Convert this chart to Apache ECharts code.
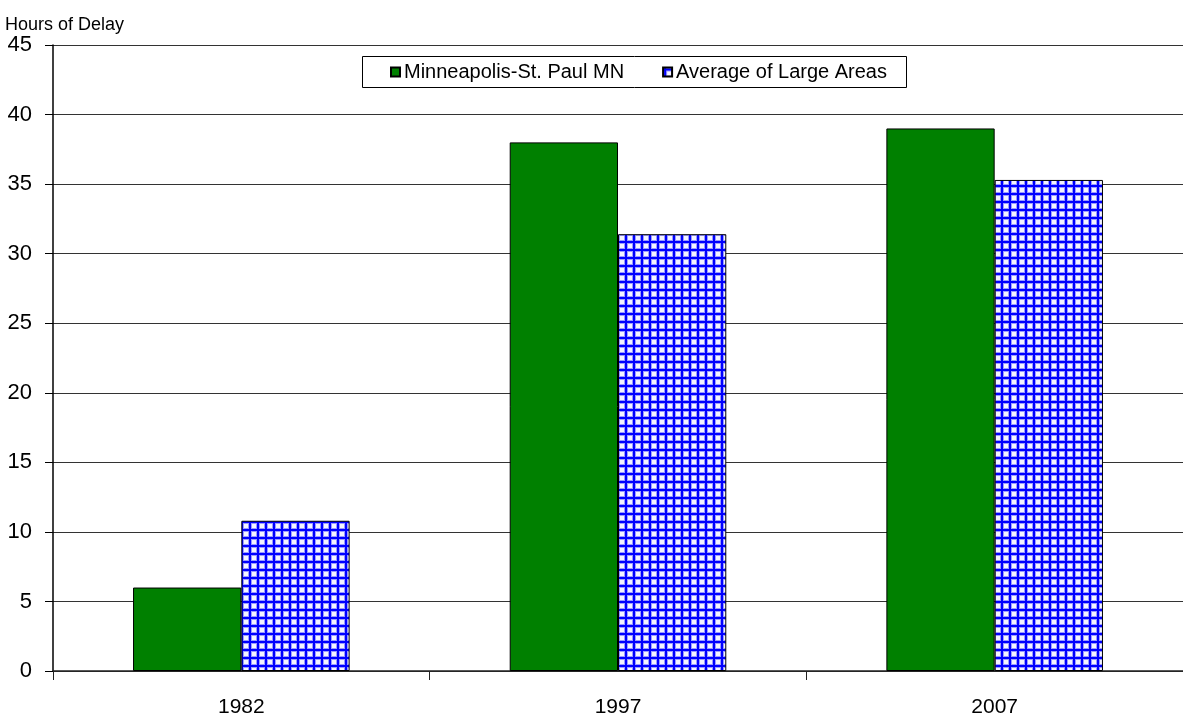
<!DOCTYPE html>
<html><head><meta charset="utf-8">
<script src="https://cdn.jsdelivr.net/npm/echarts@6/dist/echarts.min.js"></script>
<style>html,body{margin:0;padding:0;background:#fff}#c{width:1183px;height:727px}</style>
</head><body><div id="c"></div>
<script>
const categories = ['1982', '1997', '2007'];
const minneapolis = [6, 38, 39];
const largeAreas = [10.8, 31.4, 35.3];
const seriesNames = ['Minneapolis-St. Paul MN', 'Average of Large Areas'];
const yTitle = 'Hours of Delay';

function makePattern(cell) {
  const c = document.createElement('canvas');
  c.width = cell; c.height = cell;
  const g = c.getContext('2d');
  g.fillStyle = '#f4f4ff'; g.fillRect(0, 0, cell, cell);
  g.fillStyle = '#9a9aff'; g.fillRect(0, 0, cell, 4); g.fillRect(0, 0, 4, cell);
  g.fillStyle = '#0000ff'; g.fillRect(0, 1, cell, 2); g.fillRect(1, 0, 2, cell);
  return c;
}
const pat = makePattern(8);

const chart = echarts.init(document.getElementById('c'));
chart.setOption({
  animation: false,
  textStyle: { fontFamily: 'Liberation Sans, Arial, sans-serif' },
  grid: { left: 53, right: 0, top: 45, bottom: 56 },
  graphic: [{
    type: 'rect', left: 362, top: 56,
    shape: { width: 544, height: 31 },
    style: { fill: '#fff', stroke: '#000', lineWidth: 1 },
    z: 50
  }],
  legend: {
    top: 62, left: 390, z: 100,
    icon: 'rect', itemWidth: 9, itemHeight: 9, itemGap: 38,
    padding: 0,
    textStyle: { fontSize: 20, color: '#000', fontFamily: 'Liberation Sans, Arial, sans-serif', padding: [0, 0, 0, -1] },
    data: seriesNames
  },
  xAxis: {
    type: 'category', data: categories,
    axisLine: { lineStyle: { color: '#222', width: 1.5 } },
    axisTick: { show: true, length: 9, lineStyle: { color: '#222' } },
    axisLabel: { fontSize: 21, color: '#000', margin: 26 }
  },
  yAxis: {
    type: 'value', min: 0, max: 45, interval: 5,
    name: yTitle, nameLocation: 'end', nameGap: 9,
    nameTextStyle: { fontSize: 18, color: '#000', align: 'left', padding: [0, 0, 0, -48] },
    axisLine: { show: true, lineStyle: { color: '#000', width: 1.5 } },
    axisTick: { show: true, length: 8, lineStyle: { color: '#000' } },
    axisLabel: { fontSize: 22, color: '#000', margin: 21 },
    splitLine: { lineStyle: { color: '#333', width: 1.2 } }
  },
  series: [
    {
      name: seriesNames[0], type: 'bar', data: minneapolis,
      barGap: '0%', barCategoryGap: '42.5%',
      itemStyle: { color: '#008000', borderColor: '#000', borderWidth: 1 }
    },
    {
      name: seriesNames[1], type: 'bar', data: largeAreas,
      barGap: '0%', barCategoryGap: '42.5%',
      itemStyle: { color: { image: pat, repeat: 'repeat' }, borderColor: '#000', borderWidth: 1 }
    }
  ]
});
</script></body></html>
